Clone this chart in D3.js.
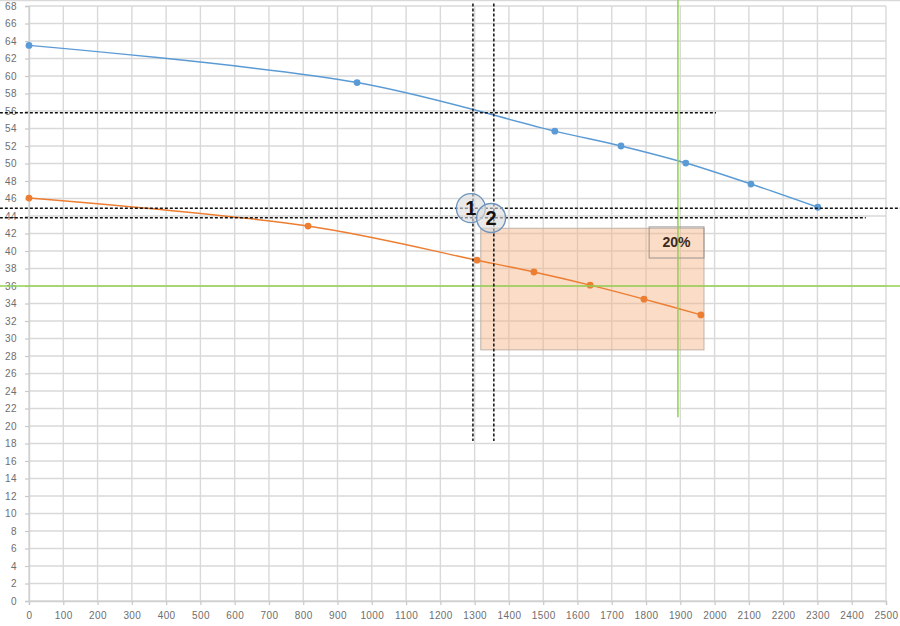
<!DOCTYPE html>
<html><head><meta charset="utf-8">
<script src="https://cdn.jsdelivr.net/npm/d3@7/dist/d3.min.js"></script>
<style>
html,body{margin:0;padding:0;background:#fff;}
svg{display:block;font-family:"Liberation Sans",Arial,sans-serif;}
</style></head>
<body><svg id="c" width="900" height="626"></svg>
<script>
// ---- data ----
const blueX = [0, 957, 1534, 1727, 1916, 2106, 2301];
const blueY = [63.5, 59.25, 53.7, 52.0, 50.05, 47.65, 45.0];
const orangeX = [0, 814, 1307, 1473, 1637, 1794, 1960];
const orangeY = [46.05, 42.85, 38.95, 37.6, 36.1, 34.5, 32.7];
const xTicks = d3.range(0, 2501, 100);
const yTicks = d3.range(0, 69, 2);
// annotation lines (data units)
const dashH = [{y: 55.8, x0: -85, x1: 2004}, {y: 44.9, x0: -85, x1: 2545}, {y: 43.8, x0: -85, x1: 2441}];
const dashV = [{x: 1295, y0: 68.3, y1: 18.3}, {x: 1356, y0: 68.3, y1: 18.3}];
const greenH = [{y: 36.0, x0: -85, x1: 2545}];
const greenV = [{x: 1893, y0: 68.7, y1: 21.0}];
const shadeRect = {x0: 1318, x1: 1969, y0: 28.7, y1: 42.6};
const pctBox = {x0: 1809, x1: 1969, y0: 39.2, y1: 42.75, label: "20%"};
const markers = [{x: 1289, y: 44.9, label: "1"}, {x: 1348, y: 43.77, label: "2"}];

// ---- scales ----
const svg = d3.select("#c");
const x = d3.scaleLinear().domain([0, 2500]).range([29, 886]);
const y = d3.scaleLinear().domain([0, 68]).range([601, 6]);

// top border
svg.append("line").attr("x1", 0).attr("x2", 900).attr("y1", 0.5).attr("y2", 0.5)
  .attr("stroke", "#d9d9d9").attr("stroke-width", 1.5);

// grid
const g = svg.append("g");
g.selectAll(".vg").data(xTicks).join("line")
  .attr("x1", d => x(d)).attr("x2", d => x(d)).attr("y1", y(68)).attr("y2", y(0))
  .attr("stroke", "#d9d9d9").attr("stroke-width", 1.4);
g.selectAll(".hg").data(yTicks).join("line")
  .attr("x1", x(0)).attr("x2", x(2500)).attr("y1", d => y(d)).attr("y2", d => y(d))
  .attr("stroke", "#d9d9d9").attr("stroke-width", 1.4);

// axes
const xAxis = d3.axisBottom(x).tickValues(xTicks).tickSize(4).tickPadding(7).tickFormat(d3.format("d"));
const yAxis = d3.axisLeft(y).tickValues(yTicks).tickSize(4).tickPadding(8).tickFormat(d3.format("d"));
const gx = svg.append("g").attr("transform", `translate(0,${y(0)})`).call(xAxis);
const gy = svg.append("g").attr("transform", `translate(${x(0)},0)`).call(yAxis);
[gx, gy].forEach(a => {
  a.select(".domain").attr("stroke", "#d0d0d0").attr("stroke-width", 1.4);
  a.selectAll(".tick line").attr("stroke", "#c8c8c8").attr("stroke-width", 1.2);
  a.selectAll(".tick text").attr("fill", "#6e6e6e").attr("font-size", 10).style("letter-spacing", "0.4px");
});

// shaded rect
svg.append("rect")
  .attr("x", x(shadeRect.x0)).attr("y", y(shadeRect.y1))
  .attr("width", x(shadeRect.x1) - x(shadeRect.x0)).attr("height", y(shadeRect.y0) - y(shadeRect.y1))
  .attr("fill", "#f4b183").attr("fill-opacity", 0.45)
  .attr("stroke", "#bfb2a8").attr("stroke-width", 1);

// series
const line = d3.line().x(d => x(d[0])).y(d => y(d[1])).curve(d3.curveCatmullRom.alpha(0.5));
const series = [
  {xs: blueX, ys: blueY, color: "#5b9bd5"},
  {xs: orangeX, ys: orangeY, color: "#ed7d31"}
];
series.forEach(s => {
  const pts = s.xs.map((v, i) => [v, s.ys[i]]);
  svg.append("path").datum(pts).attr("d", line).attr("fill", "none")
    .attr("stroke", s.color).attr("stroke-width", 1.5);
  svg.append("g").selectAll("circle").data(pts).join("circle")
    .attr("cx", d => x(d[0])).attr("cy", d => y(d[1])).attr("r", 3.4).attr("fill", s.color);
});

// percent box
svg.append("rect")
  .attr("x", x(pctBox.x0)).attr("y", y(pctBox.y1))
  .attr("width", x(pctBox.x1) - x(pctBox.x0)).attr("height", y(pctBox.y0) - y(pctBox.y1))
  .attr("fill", "none").attr("stroke", "#9a9490").attr("stroke-width", 1);

// green lines
svg.selectAll(".gh").data(greenH).join("line")
  .attr("x1", d => x(d.x0)).attr("x2", d => x(d.x1)).attr("y1", d => y(d.y)).attr("y2", d => y(d.y))
  .attr("stroke", "#92d050").attr("stroke-width", 1.5);
svg.selectAll(".gv").data(greenV).join("line")
  .attr("x1", d => x(d.x)).attr("x2", d => x(d.x)).attr("y1", d => y(d.y0)).attr("y2", d => y(d.y1))
  .attr("stroke", "#92d050").attr("stroke-width", 1.5);

svg.append("text").attr("x", (x(pctBox.x0) + x(pctBox.x1)) / 2).attr("y", (y(pctBox.y0) + y(pctBox.y1)) / 2 + 5)
  .attr("text-anchor", "middle").attr("font-size", 14).attr("font-weight", "bold").attr("fill", "#3a2a20")
  .text(pctBox.label);

// dashed lines
svg.selectAll(".dh").data(dashH).join("line")
  .attr("x1", d => x(d.x0)).attr("x2", d => x(d.x1)).attr("y1", d => y(d.y)).attr("y2", d => y(d.y))
  .attr("stroke", "#111").attr("stroke-width", 1.5).attr("stroke-dasharray", "3,2");
svg.selectAll(".dv").data(dashV).join("line")
  .attr("x1", d => x(d.x)).attr("x2", d => x(d.x)).attr("y1", d => y(d.y0)).attr("y2", d => y(d.y1))
  .attr("stroke", "#111").attr("stroke-width", 1.5).attr("stroke-dasharray", "3,2");

// numbered markers
const mk = svg.append("g").selectAll("g").data(markers).join("g")
  .attr("transform", d => `translate(${x(d.x)},${y(d.y)})`);
mk.append("circle").attr("r", 14.5).attr("fill", "#dcdcdc").attr("fill-opacity", 0.6)
  .attr("stroke", "#6f95bd").attr("stroke-width", 1.4);
mk.append("text").attr("text-anchor", "middle").attr("y", 7).attr("font-size", 20)
  .attr("font-weight", "bold").attr("fill", "#111").text(d => d.label);
</script></body></html>
